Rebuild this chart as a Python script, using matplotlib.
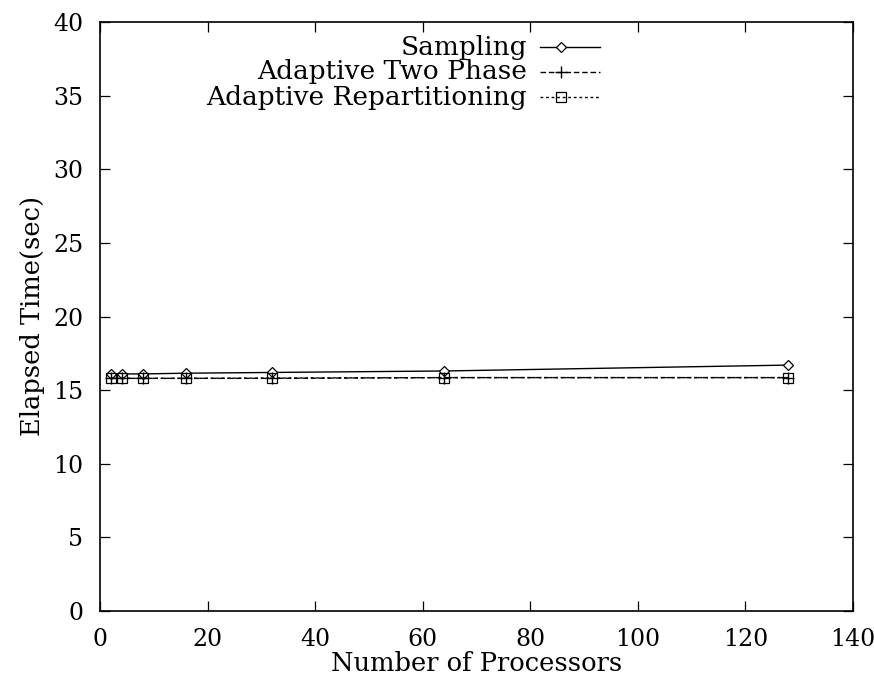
import matplotlib
matplotlib.use("Agg")
import matplotlib.pyplot as plt
from matplotlib.lines import Line2D

processors = [2, 4, 8, 16, 32, 64, 128]
sampling = [16.1, 16.1, 16.1, 16.15, 16.2, 16.3, 16.7]
two_phase = [15.8, 15.8, 15.8, 15.8, 15.8, 15.85, 15.85]
repartitioning = [15.8, 15.8, 15.8, 15.8, 15.82, 15.85, 15.85]
labels = ["Sampling", "Adaptive Two Phase", "Adaptive Repartitioning"]

plt.rcParams['font.family'] = ['DejaVu Serif']
fig = plt.figure(figsize=(8.74, 6.81), dpi=100)
ax = fig.add_axes([100/874, 1-611/681, 753/874, 589/681])

styles = [
    dict(color='black', lw=1.0, ls='-', marker='D', ms=5, mfc='white', mec='black', mew=0.9),
    dict(color='black', lw=1.0, ls=(0, (4, 2)), marker='+', ms=9, mec='black', mew=1.0),
    dict(color='black', lw=1.0, ls=(0, (2, 2)), marker='s', ms=7, mfc='none', mec='black', mew=0.9),
]
series = [sampling, two_phase, repartitioning]
for ys, st in zip(series, styles):
    ax.plot(processors, ys, **st)

ax.set_xlim(0, 140)
ax.set_ylim(0, 40)
ax.set_xticks(range(0, 141, 20))
ax.set_yticks(range(0, 41, 5))
ax.tick_params(direction='in', top=True, right=True, length=7, width=0.9, labelsize=17, pad=12)
for s in ax.spines.values():
    s.set_linewidth(1.2)
ax.set_xlabel("Number of Processors", fontsize=18.5, labelpad=0)
ax.set_ylabel("Elapsed Time(sec)", fontsize=18.5, labelpad=6)

# gnuplot-style key: right-aligned text with line sample to its right
ys_key = [47, 72, 97]
for lab, st, yp in zip(labels, styles, ys_key):
    yf = (611 - yp) / 589
    ax.text((527 - 100) / 753, yf, lab, transform=ax.transAxes, ha='right', va='center', fontsize=19)
    x0, x1 = (540 - 100) / 753, (600 - 100) / 753
    ax.add_line(Line2D([x0, x1], [yf, yf], transform=ax.transAxes, color='black',
                       lw=st['lw'], ls=st['ls']))
    ax.add_line(Line2D([(x0 + x1) / 2 - 0.012], [yf], transform=ax.transAxes, ls='none',
                       marker=st['marker'], ms=st['ms'], mfc=st.get('mfc', 'black'),
                       mec='black', mew=st['mew']))

fig.savefig("out.png", dpi=100)
